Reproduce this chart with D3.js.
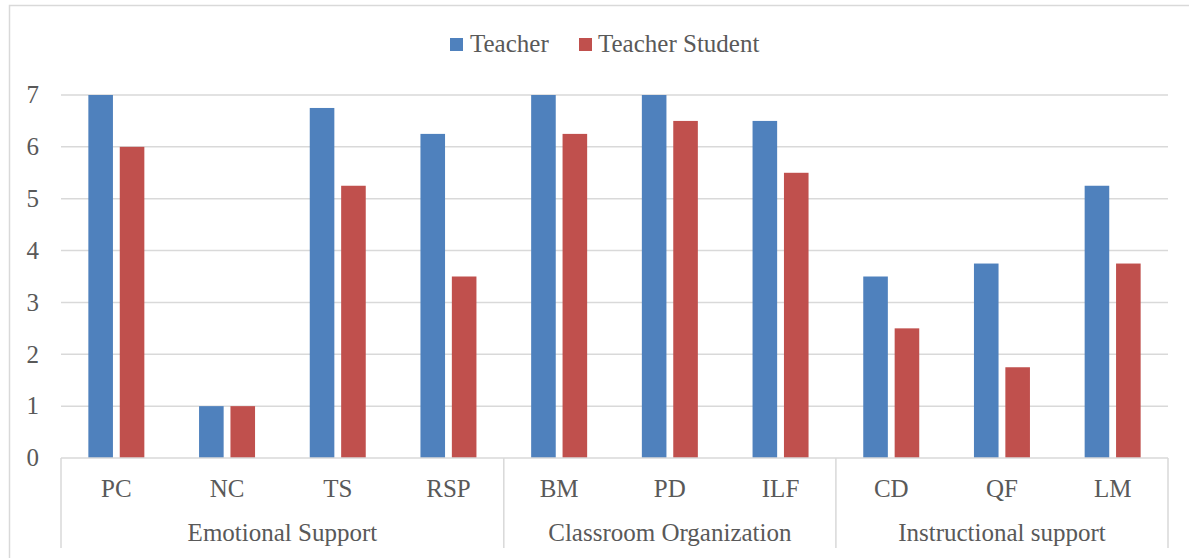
<!DOCTYPE html>
<html>
<head>
<meta charset="utf-8">
<script src="https://cdn.jsdelivr.net/npm/d3@7"></script>
<style>
  html, body { margin: 0; padding: 0; background: #fff; }
  svg { display: block; }
  text { font-family: "Liberation Serif", "DejaVu Serif", serif; fill: #595959; }
</style>
</head>
<body>
<svg id="chart" width="1189" height="558"></svg>
<script>
const categories = ["PC", "NC", "TS", "RSP", "BM", "PD", "ILF", "CD", "QF", "LM"];
const groups = [
  { name: "Emotional Support", members: ["PC", "NC", "TS", "RSP"] },
  { name: "Classroom Organization", members: ["BM", "PD", "ILF"] },
  { name: "Instructional support", members: ["CD", "QF", "LM"] }
];
const seriesNames = ["Teacher", "Teacher Student"];
const teacher = [7, 1, 6.75, 6.25, 7, 7, 6.5, 3.5, 3.75, 5.25];
const teacherStudent = [6, 1, 5.25, 3.5, 6.25, 6.5, 5.5, 2.5, 1.75, 3.75];
const yTicks = [0, 1, 2, 3, 4, 5, 6, 7];
const colors = ["#4F81BD", "#C0504D"];

const svg = d3.select("#chart");
const plot = { left: 61, right: 1168, top: 95, bottom: 458 };
const fs = "25px";

// chart border (cropped at right/bottom)
svg.append("rect")
  .attr("x", 9.5).attr("y", 5.5)
  .attr("width", 1200).attr("height", 600)
  .attr("fill", "none").attr("stroke", "#D9D9D9").attr("stroke-width", 1.5);

const x = d3.scaleBand().domain(categories).range([plot.left, plot.right]).padding(0);
const x1 = d3.scaleBand().domain(seriesNames).range([0, x.bandwidth()])
  .paddingInner(0.217).paddingOuter(0.871);
const y = d3.scaleLinear().domain([0, 7]).range([plot.bottom, plot.top]);

// gridlines
svg.append("g").selectAll("line").data(yTicks.filter(d => d > 0)).join("line")
  .attr("x1", plot.left).attr("x2", plot.right)
  .attr("y1", d => y(d)).attr("y2", d => y(d))
  .attr("stroke", "#D9D9D9").attr("stroke-width", 1.5);

// y tick labels
svg.append("g").selectAll("text").data(yTicks).join("text")
  .attr("x", 39).attr("y", d => y(d))
  .attr("text-anchor", "end").attr("dy", "0.33em")
  .style("font-size", fs)
  .text(d => d);

// bars
const data = categories.map((c, i) => ({ cat: c, values: [teacher[i], teacherStudent[i]] }));
const cg = svg.append("g").selectAll("g").data(data).join("g")
  .attr("transform", d => `translate(${x(d.cat)},0)`);
cg.selectAll("rect").data(d => d.values.map((v, j) => ({ s: seriesNames[j], v, j }))).join("rect")
  .attr("x", d => x1(d.s))
  .attr("width", x1.bandwidth())
  .attr("y", d => y(d.v))
  .attr("height", d => y(0) - y(d.v))
  .attr("fill", d => colors[d.j]);

// axis line
svg.append("line")
  .attr("x1", plot.left).attr("x2", plot.right)
  .attr("y1", plot.bottom).attr("y2", plot.bottom)
  .attr("stroke", "#D9D9D9").attr("stroke-width", 1.5);

// category labels
svg.append("g").selectAll("text").data(categories).join("text")
  .attr("x", d => x(d) + x.bandwidth() / 2)
  .attr("y", 497)
  .attr("text-anchor", "middle")
  .style("font-size", fs)
  .text(d => d);

// group separators
const sepX = [x(groups[0].members[0])];
groups.forEach(g => {
  const last = g.members[g.members.length - 1];
  sepX.push(x(last) + x.bandwidth());
});
svg.append("g").selectAll("line").data(sepX).join("line")
  .attr("x1", d => d).attr("x2", d => d)
  .attr("y1", plot.bottom).attr("y2", 548)
  .attr("stroke", "#D9D9D9").attr("stroke-width", 1.5);

// group labels
svg.append("g").selectAll("text").data(groups).join("text")
  .attr("x", g => (x(g.members[0]) + x(g.members[g.members.length - 1]) + x.bandwidth()) / 2)
  .attr("y", 541)
  .attr("text-anchor", "middle")
  .style("font-size", fs)
  .text(g => g.name);

// legend
const legendItems = [
  { name: seriesNames[0], color: colors[0], sx: 450, tx: 470 },
  { name: seriesNames[1], color: colors[1], sx: 579, tx: 598 }
];
const lg = svg.append("g");
lg.selectAll("rect").data(legendItems).join("rect")
  .attr("x", d => d.sx).attr("y", 38).attr("width", 13).attr("height", 13)
  .attr("fill", d => d.color);
lg.selectAll("text").data(legendItems).join("text")
  .attr("x", d => d.tx).attr("y", 52)
  .style("font-size", fs)
  .text(d => d.name);
</script>
</body>
</html>
